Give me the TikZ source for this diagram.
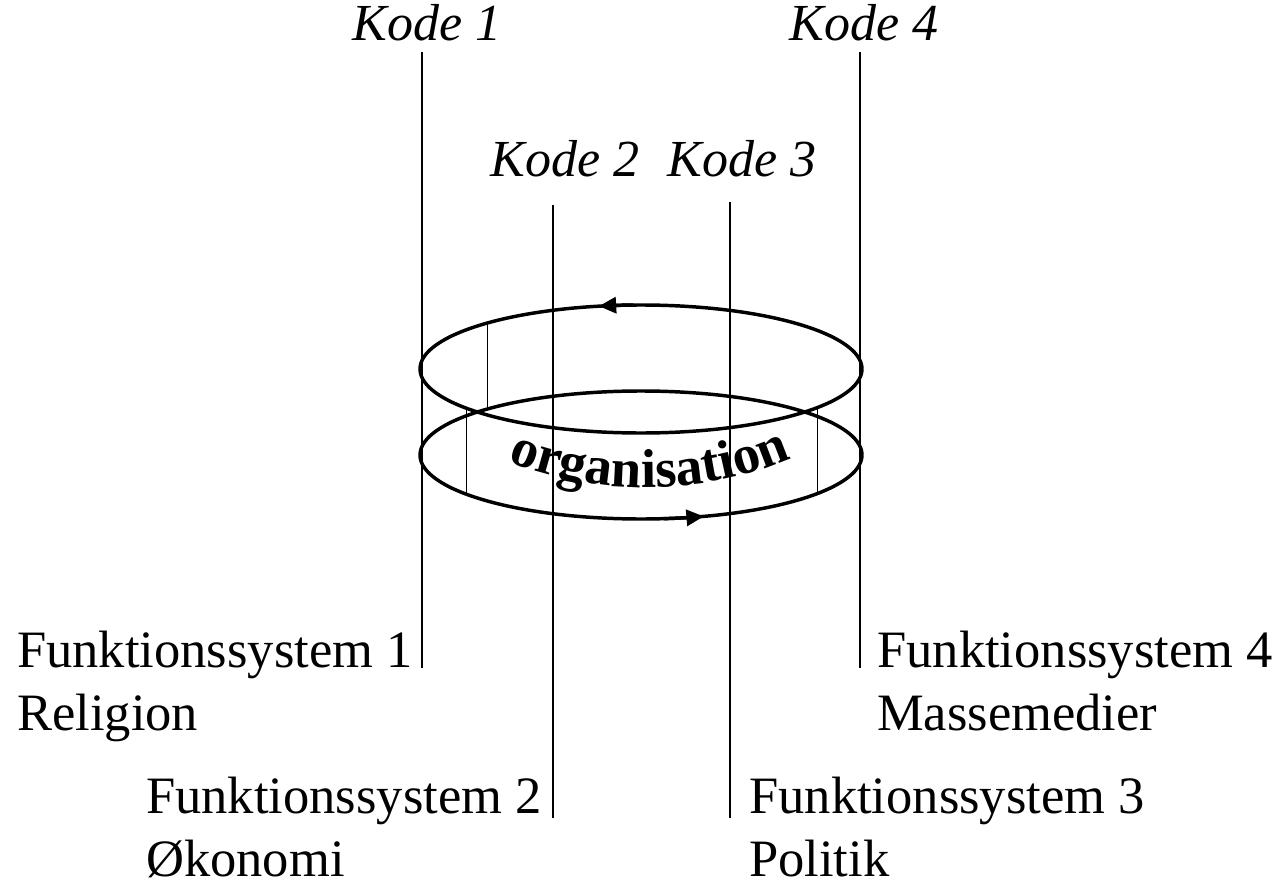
\documentclass[tikz,border=0pt]{standalone}
\usepackage{fontspec}
\setmainfont{Liberation Serif}
\usepackage{tikz}
\usetikzlibrary{arrows.meta, calc, decorations.text}

\newcommand{\orgtextfont}{\fontsize{41}{48}\selectfont\bfseries}

\tikzset{
  kodelbl/.style={font=\fontsize{39}{46}\selectfont\itshape, inner sep=0pt},
  syslbl/.style={font=\fontsize{39.4}{47.25}\selectfont, align=left, inner sep=0pt},
  ring/.style={line width=2.6pt},
  ringarrow/.style={line width=2.6pt, -{Triangle[length=13pt, width=12pt]}},
  codeline/.style={line width=0.8pt},
}

\begin{document}
\begin{tikzpicture}[x=0.75pt, y=-0.75pt]
            \useasboundingbox (0,0) rectangle (1283,881);
            \coordinate (ctop) at (641,369);
            \coordinate (cbot) at (641,455);
            \foreach \n/\x/\a/\b in {1/422/52/668, 2/553/205/818, 3/730/202/818, 4/860/52/668} {
                \coordinate (code\n top) at (\x,\a);
                \coordinate (code\n bot) at (\x,\b);
                \draw[codeline] (code\n top) -- (code\n bot);
            }
            \foreach \t in {226, 142, 37} {
                \coordinate (edge\t a) at ($(ctop)+(\t:221 and 64)$);
                \coordinate (edge\t b) at ($(cbot)+(\t:221 and 64)$);
                \draw[codeline] (edge\t a) -- (edge\t b);
            }
            \draw[ring] (ctop) ellipse [x radius=221, y radius=64];
            \draw[ring] (cbot) ellipse [x radius=221, y radius=64];
            \draw[ringarrow] ($(ctop)+(268:221 and 64)$) arc [start angle=268, end angle=259, x radius=221, y radius=64];
            \draw[ringarrow] ($(cbot)+(84:221 and 64)$) arc [start angle=84, end angle=73.5, x radius=221, y radius=64];
            \begin{scope}[y=0.75pt]
                \path[decorate, decoration={text along path, text align=center,
                    text={|\orgtextfont|organisation}}]
                    (506,-460) .. controls (590,-497) and (705,-497) .. (794,-457);
            \end{scope}
            \node[kodelbl, anchor=base] (kode1) at (427,41) {Kode 1};
            \node[kodelbl, anchor=base] (kode2) at (565,176) {Kode 2};
            \node[kodelbl, anchor=base] (kode3) at (742,176) {Kode 3};
            \node[kodelbl, anchor=base] (kode4) at (864,41) {Kode 4};
            \node[syslbl, anchor=north east] (sys1) at (413,631) {Funktionssystem 1\\Religion};
            \node[syslbl, anchor=north west] (sys4) at (877,631) {Funktionssystem 4\\Massemedier};
            \node[syslbl, anchor=north east] (sys2) at (542,777) {Funktionssystem 2\\Økonomi};
            \node[syslbl, anchor=north west] (sys3) at (749,777) {Funktionssystem 3\\Politik};
        \end{tikzpicture}
\end{document}
